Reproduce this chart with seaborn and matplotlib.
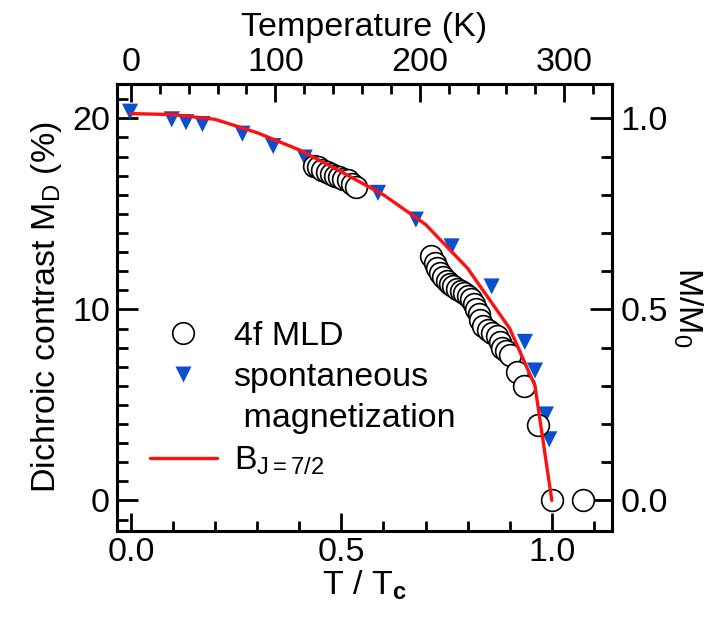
import numpy as np
import pandas as pd
import matplotlib
matplotlib.use("Agg")
import matplotlib.pyplot as plt
import seaborn as sns
from matplotlib.lines import Line2D
from matplotlib.ticker import MultipleLocator

# ---------------- data ----------------
# 4f MLD (open circles)
mld_t = [0.435, 0.445, 0.455, 0.465, 0.475, 0.485, 0.495, 0.505, 0.515, 0.525, 0.535,
         0.714, 0.722, 0.728, 0.735, 0.742, 0.750, 0.758, 0.766, 0.775, 0.784, 0.792,
         0.800, 0.808, 0.815, 0.820, 0.826, 0.830, 0.836, 0.848, 0.858, 0.869, 0.876,
         0.882, 0.890, 0.900, 0.918, 0.935, 0.968, 1.000, 1.075]
mld_v = [17.5, 17.45, 17.3, 17.2, 17.1, 17.0, 16.95, 16.85, 16.75, 16.55, 16.4,
         12.8, 12.45, 12.15, 11.9, 11.7, 11.5, 11.35, 11.2, 11.05, 10.95, 10.85,
         10.7, 10.55, 10.3, 10.0, 9.75, 9.45, 9.15, 8.9, 8.75, 8.6, 8.3,
         8.0, 7.8, 7.6, 6.7, 6.0, 3.95, 0.0, 0.0]

# spontaneous magnetization (blue triangles)
mag_t = [-0.002, 0.097, 0.131, 0.170, 0.265, 0.338, 0.413, 0.587, 0.677, 0.762,
         0.857, 0.936, 0.960, 0.986, 0.994]
mag_v = [20.35, 19.95, 19.8, 19.7, 19.2, 18.55, 17.95, 16.1, 14.7, 13.3,
         11.2, 8.3, 6.8, 4.5, 3.2]

# Brillouin function J=7/2 (red line)
bj_t = [0.0, 0.1, 0.2, 0.3, 0.4, 0.5, 0.6, 0.7, 0.8, 0.9, 0.96, 1.0]
bj_v = [20.25, 20.2, 19.95, 19.25, 18.35, 17.2, 16.0, 14.45, 12.15, 9.0, 6.0, 0.0]

Tc = 291.4          # K, for the top temperature axis
M0 = 20.0           # % contrast corresponding to M/M0 = 1

x_ticks = [0.0, 0.5, 1.0]
x_ticklabels = ["0.0", "0.5", "1.0"]
y_ticks = [0, 10, 20]
top_ticks = [0, 100, 200, 300]
right_ticks = [0.0, 0.5, 1.0]
right_ticklabels = ["0.0", "0.5", "1.0"]

mld = pd.DataFrame({"t": mld_t, "v": mld_v})
mag = pd.DataFrame({"t": mag_t, "v": mag_v})
bj = pd.DataFrame({"t": bj_t, "v": bj_v})

# ---------------- style ----------------
sns.set_theme(style="ticks")
plt.rcParams["font.family"] = ["Liberation Sans", "DejaVu Sans"]
plt.rcParams["mathtext.fontset"] = "custom"
plt.rcParams["mathtext.rm"] = "Liberation Sans"
plt.rcParams["mathtext.it"] = "Liberation Sans"
plt.rcParams["mathtext.bf"] = "Liberation Sans:bold"
for k in ["text.color", "axes.labelcolor", "xtick.color", "ytick.color", "axes.edgecolor"]:
    plt.rcParams[k] = "black"

FS = 24.5
blue = "#0a50cc"
red = "#ff1010"

fig = plt.figure(figsize=(7.17, 6.19), dpi=100)
ax = fig.add_axes([117 / 717, 1 - 531 / 619, (612 - 117) / 717, (531 - 84) / 619])

sns.scatterplot(data=mag, x="t", y="v", ax=ax, marker="v", s=135, color=blue,
                edgecolor="none", linewidth=0, zorder=2, legend=False)
sns.scatterplot(data=mld, x="t", y="v", ax=ax, marker="o", s=245, facecolor="white",
                edgecolor="black", linewidth=1.2, zorder=3, legend=False)
sns.lineplot(data=bj, x="t", y="v", ax=ax, color=red, linewidth=2.4, sort=False,
             estimator=None, zorder=4, legend=False)

ax.set_xlim(-0.033, 1.143)
ax.set_ylim(-1.6, 21.8)
ax.set_xticks(x_ticks)
ax.set_xticklabels(x_ticklabels)
ax.set_yticks(y_ticks)
ax.xaxis.set_minor_locator(MultipleLocator(0.1))
ax.yaxis.set_minor_locator(MultipleLocator(1))

for sp in ax.spines.values():
    sp.set_visible(True)
    sp.set_linewidth(2.2)
    sp.set_color("black")

ax.tick_params(axis="both", which="major", direction="in", length=14, width=2,
               labelsize=FS, colors="black")
ax.tick_params(axis="y", which="major", length=15, pad=5)
ax.tick_params(axis="x", which="major", length=13, pad=4)
ax.tick_params(axis="both", which="minor", direction="in", length=7, width=2)
ax.tick_params(axis="y", which="minor", length=8)

ax.set_xlabel(r"T / T$_{\mathbf{c}}$", fontsize=FS, labelpad=1)
ax.set_ylabel(r"Dichroic contrast M$_\mathregular{D}$ (%)", fontsize=FS, labelpad=6)

# top axis: temperature
top = ax.secondary_xaxis("top", functions=(lambda x: x * Tc, lambda t: t / Tc))
top.set_xticks(top_ticks)
top.xaxis.set_minor_locator(MultipleLocator(20))
top.tick_params(axis="x", which="major", direction="in", length=13, width=2,
                labelsize=FS, pad=4, colors="black")
top.tick_params(axis="x", which="minor", direction="in", length=7, width=2)
top.spines["top"].set_linewidth(2.2)
top.set_xlabel("Temperature (K)", fontsize=FS, labelpad=8)

# right axis: M/M0
right = ax.secondary_yaxis("right", functions=(lambda y: y / M0, lambda m: m * M0))
right.set_yticks(right_ticks)
right.set_yticklabels(right_ticklabels)
right.yaxis.set_minor_locator(MultipleLocator(0.1))
right.tick_params(axis="y", which="major", direction="in", length=16, width=2,
                  labelsize=FS, pad=6, colors="black")
right.tick_params(axis="y", which="minor", direction="in", length=8, width=2)
right.spines["right"].set_linewidth(2.2)
right.set_ylabel(r"M/M$_\mathregular{0}$", fontsize=FS, rotation=270, labelpad=26)

# legend
handles = [
    Line2D([], [], marker="o", linestyle="none", markersize=15.5,
           markerfacecolor="white", markeredgecolor="black", markeredgewidth=1.2),
    Line2D([], [], marker="v", linestyle="none", markersize=11.5,
           markerfacecolor=blue, markeredgecolor="none"),
    Line2D([], [], linestyle="none", marker=None),
    Line2D([], [], color=red, linewidth=2.4),
]
labels = ["4f MLD", "spontaneous", " magnetization", r"B$_\mathregular{J{=}7/2}$"]
leg = ax.legend(handles, labels, loc="upper left", bbox_to_anchor=(0.067, 0.47),
                frameon=False, fontsize=FS, handlelength=1.95, handletextpad=0.5,
                labelspacing=0.3, borderaxespad=0, borderpad=0)

fig.savefig("out.png", dpi=100)
